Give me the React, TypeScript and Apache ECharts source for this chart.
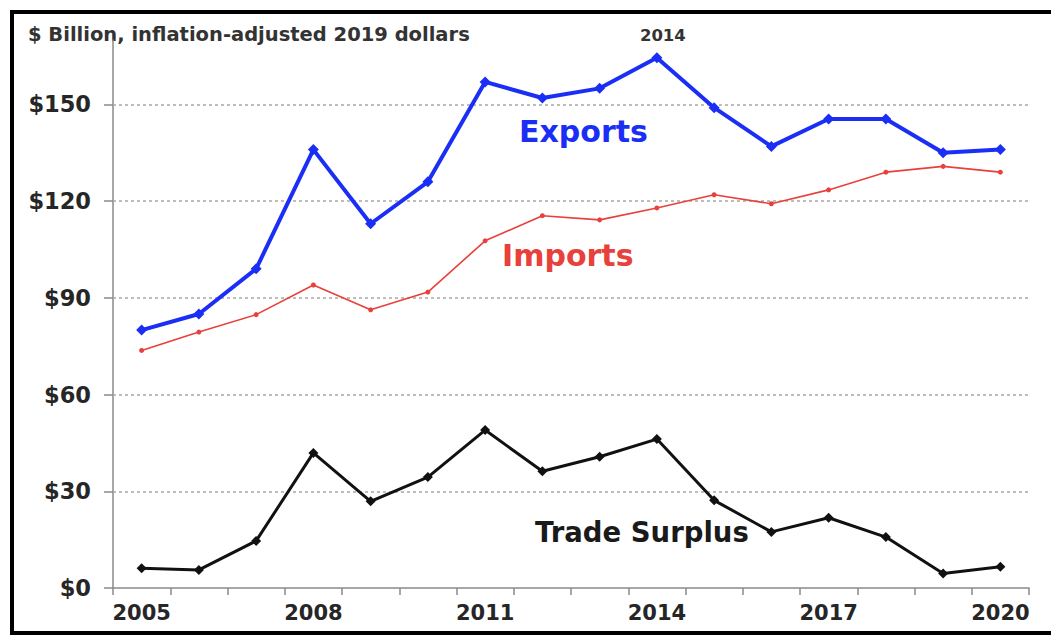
import React, { useEffect, useRef } from "react";
import * as echarts from "echarts";

const years = ["2005","2006","2007","2008","2009","2010","2011","2012","2013","2014","2015","2016","2017","2018","2019","2020"];
const exportsData = [80, 85, 99, 136, 113, 126, 157, 152, 155, 164.5, 149, 137, 145.5, 145.5, 135, 136];
const importsData = [73.7, 79.4, 84.8, 94, 86.3, 91.8, 107.7, 115.5, 114.2, 117.9, 122, 119.2, 123.5, 129, 130.8, 129];
const surplusData = [6.1, 5.6, 14.6, 41.9, 26.9, 34.4, 49, 36.2, 40.7, 46.2, 27.2, 17.4, 21.8, 15.8, 4.5, 6.6];
const yTicks = [0, 30, 60, 90, 120, 150];
const xLabelYears = ["2005", "2008", "2011", "2014", "2017", "2020"];
const peakYear = "2014";

const FONT = "DejaVu Sans";

export default function App() {
  const ref = useRef<HTMLDivElement>(null);
  useEffect(() => {
    if (!ref.current) return;
    const chart = echarts.init(ref.current, null, { renderer: "svg" });
    const peakIdx = years.indexOf(peakYear);
    chart.setOption({
      animation: false,
      backgroundColor: "#ffffff",
      grid: { left: 113, right: 22, top: 40, bottom: 48 },
      xAxis: {
        type: "category",
        data: years,
        boundaryGap: true,
        axisLine: { lineStyle: { color: "#8a8a8a", width: 1.5 } },
        axisTick: { show: true, length: 7, lineStyle: { color: "#8a8a8a", width: 1.5 } },
        axisLabel: {
          interval: 0,
          formatter: (v: string) => (xLabelYears.includes(v) ? v : ""),
          fontFamily: FONT,
          fontWeight: "bold",
          fontSize: 21,
          color: "#262626",
          margin: 14,
        },
        splitLine: { show: false },
      },
      yAxis: {
        type: "value",
        min: 0,
        max: 170,
        interval: 30,
        axisLine: { show: true, lineStyle: { color: "#8a8a8a", width: 1.5 } },
        axisTick: { show: true, length: 9, customValues: yTicks, lineStyle: { color: "#8a8a8a", width: 1.5 } },
        axisLabel: {
          customValues: yTicks,
          formatter: (v: number) => (yTicks.includes(v) ? "$" + v : ""),
          fontFamily: FONT,
          fontWeight: "bold",
          fontSize: 22.5,
          color: "#262626",
          margin: 22,
        },
        splitLine: { show: false },
      },
      graphic: [
        {
          type: "polyline",
          shape: { points: [[1051, 12], [12, 12], [12, 633], [1051, 633]] },
          style: { fill: "none", stroke: "#000", lineWidth: 4 },
          z: 100,
        },
        {
          type: "text",
          x: 28,
          y: 34,
          style: {
            text: "$ Billion, inflation-adjusted 2019 dollars",
            fontFamily: FONT,
            fontWeight: "bold",
            fontSize: 19.5,
            fill: "#333",
            verticalAlign: "middle",
          },
        },
        {
          type: "text",
          x: 519,
          y: 131,
          style: { text: "Exports", fontFamily: FONT, fontWeight: "bold", fontSize: 30, fill: "#1a2ef5", verticalAlign: "middle" },
        },
        {
          type: "text",
          x: 502,
          y: 255,
          style: { text: "Imports", fontFamily: FONT, fontWeight: "bold", fontSize: 30, fill: "#e8403a", verticalAlign: "middle" },
        },
        {
          type: "text",
          x: 535,
          y: 532,
          style: { text: "Trade Surplus", fontFamily: FONT, fontWeight: "bold", fontSize: 27.5, fill: "#1a1a1a", verticalAlign: "middle" },
        },
      ],
      series: [
        {
          name: "Imports",
          type: "line",
          data: importsData,
          symbol: "circle",
          symbolSize: 5,
          lineStyle: { color: "#e8403a", width: 1.6 },
          itemStyle: { color: "#e8403a" },
          z: 3,
          markLine: {
            silent: true,
            symbol: ["none", "none"],
            label: { show: false },
            lineStyle: { color: "#a8a8a8", type: [3, 3], width: 1.5 },
            data: yTicks.filter((v) => v > 0).map((v) => ({ yAxis: v })),
            z: 1,
          },
        },
        {
          name: "Exports",
          type: "line",
          data: exportsData.map((v, i) =>
            i === peakIdx
              ? {
                  value: v,
                  label: {
                    show: true,
                    position: "top",
                    distance: 8,
                    offset: [6, 0],
                    formatter: peakYear,
                    fontFamily: FONT,
                    fontWeight: "bold",
                    fontSize: 16.5,
                    color: "#333",
                  },
                }
              : v
          ),
          symbol: "diamond",
          symbolSize: 11,
          lineStyle: { color: "#1a2ef5", width: 4 },
          itemStyle: { color: "#1a2ef5" },
          z: 4,
        },
        {
          name: "Trade Surplus",
          type: "line",
          data: surplusData,
          symbol: "diamond",
          symbolSize: 10,
          lineStyle: { color: "#111", width: 3 },
          itemStyle: { color: "#111" },
          z: 4,
        },
      ],
    });
    return () => chart.dispose();
  }, []);
  return (
    <div
      ref={ref}
      style={{ position: "fixed", left: 0, top: 0, width: 1051, height: 636, background: "#fff" }}
    />
  );
}
